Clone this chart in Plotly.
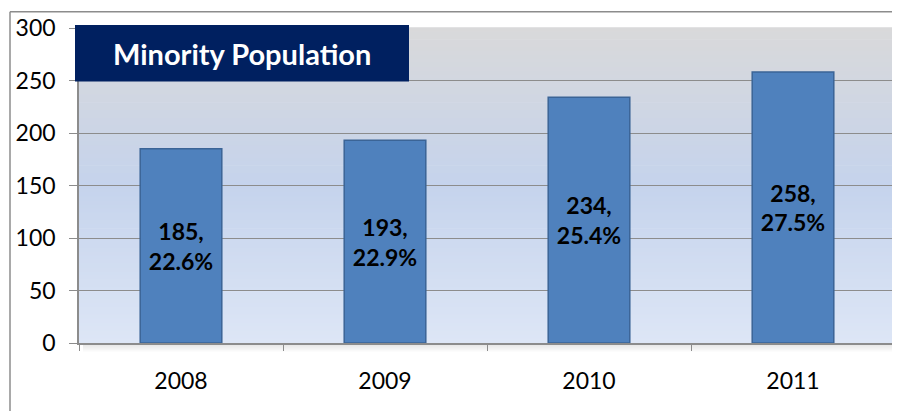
import plotly.graph_objects as go

years = ["2008", "2009", "2010", "2011"]
population = [185, 193, 234, 258]
share = ["22.6%", "22.9%", "25.4%", "27.5%"]
y_ticks = [0, 50, 100, 150, 200, 250, 300]
title_text = "Minority Population"

# page has an 8px body margin; work in screen pixels and convert
OFF = 8
W, H = 900 - OFF, 411 - OFF
PL, PR, PT, PB = 79, 895, 25, 343   # plot area in screen px
ML, MR, MT, MB = PL - OFF, W - (PR - OFF), PT - OFF, H - (PB - OFF)
PW, PH = PR - PL, PB - PT

def px_x(p):
    return (p - PL) / PW

def px_y(p):
    return (PB - p) / PH

FONT = "Lato"

fig = go.Figure()
fig.add_trace(go.Bar(
    x=years, y=population, customdata=share,
    width=0.4,
    marker=dict(color="#4F81BD", line=dict(color="#3B6496", width=1.5)),
    texttemplate="<b>%{y},<br>%{customdata}</b>",
    textposition="inside", insidetextanchor="middle", textangle=0,
    constraintext="none",
    textfont=dict(family=FONT, size=23, color="black"),
    hoverinfo="skip",
))

shapes = []
stops = [(0.0, (217, 217, 218)), (0.5, (197, 211, 236)), (1.0, (221, 230, 246))]
N = 80
def col(t):
    for (a, ca), (b, cb) in zip(stops[:-1], stops[1:]):
        if a <= t <= b:
            f = (t - a) / (b - a)
            return "rgb(%d,%d,%d)" % tuple(round(ca[i] + (cb[i] - ca[i]) * f) for i in range(3))
    return "rgb(%d,%d,%d)" % stops[-1][1]
for i in range(N):
    y1 = 1 - i / N
    y0 = 1 - (i + 1) / N
    shapes.append(dict(type="rect", xref="paper", yref="paper", x0=0, x1=1, y0=y0, y1=y1 + 0.002,
                       fillcolor=col((i + 0.5) / N), line=dict(width=0), layer="below"))
for k in range(8):
    a = 0.10 * (1 - k / 8)
    shapes.append(dict(type="rect", xref="paper", yref="paper",
                       x0=px_x(PL + 4), x1=px_x(PR + 1 + k),
                       y0=px_y(PB + 1 + k), y1=px_y(PB + 2 + k),
                       fillcolor="rgba(0,0,0,%.3f)" % a, line=dict(width=0), layer="below"))
    shapes.append(dict(type="rect", xref="paper", yref="paper",
                       x0=px_x(PR + 1 + k), x1=px_x(PR + 2 + k),
                       y0=px_y(PB + k), y1=px_y(PT + 4),
                       fillcolor="rgba(0,0,0,%.3f)" % a, line=dict(width=0), layer="below"))
# outer chart border (left and top)
shapes.append(dict(type="line", xref="paper", yref="paper", x0=px_x(10), x1=px_x(10),
                   y0=px_y(8.5), y1=px_y(420), line=dict(color="#8C8C8C", width=1.5)))
shapes.append(dict(type="line", xref="paper", yref="paper", x0=px_x(10), x1=px_x(910),
                   y0=px_y(8.5), y1=px_y(8.5), line=dict(color="#8C8C8C", width=1.5)))
# title box
shapes.append(dict(type="rect", xref="paper", yref="paper", x0=px_x(75), x1=px_x(409),
                   y0=px_y(79), y1=px_y(22), fillcolor="#002060", line=dict(width=0), layer="above"))

fig.update_layout(
    width=W, height=H,
    margin=dict(l=ML, r=MR, t=MT, b=MB, pad=0),
    paper_bgcolor="white", plot_bgcolor="rgba(0,0,0,0)",
    showlegend=False,
    shapes=shapes,
    annotations=[dict(text="<b>" + title_text + "</b>", xref="paper", yref="paper",
                      x=px_x(242), y=px_y(51), xanchor="center", yanchor="middle",
                      showarrow=False, font=dict(family=FONT, size=29, color="white"))],
    font=dict(family=FONT, color="black"),
)
fig.update_yaxes(range=[0, 300], tickvals=y_ticks, showgrid=True, gridcolor="#8C8C8C", gridwidth=1,
                 showline=True, linecolor="#8C8C8C", linewidth=1.5,
                 ticks="outside", ticklen=8, tickcolor="#8C8C8C",
                 tickfont=dict(family=FONT, size=23, color="black"), ticklabelstandoff=9,
                 zeroline=False, fixedrange=True)
fig.update_xaxes(showline=True, linecolor="#8C8C8C", linewidth=1.5,
                 ticks="outside", tickson="boundaries", ticklen=6, tickcolor="#8C8C8C",
                 tickfont=dict(family=FONT, size=23, color="black"), ticklabelstandoff=17,
                 showgrid=False, fixedrange=True)

fig.write_html("out.html")
